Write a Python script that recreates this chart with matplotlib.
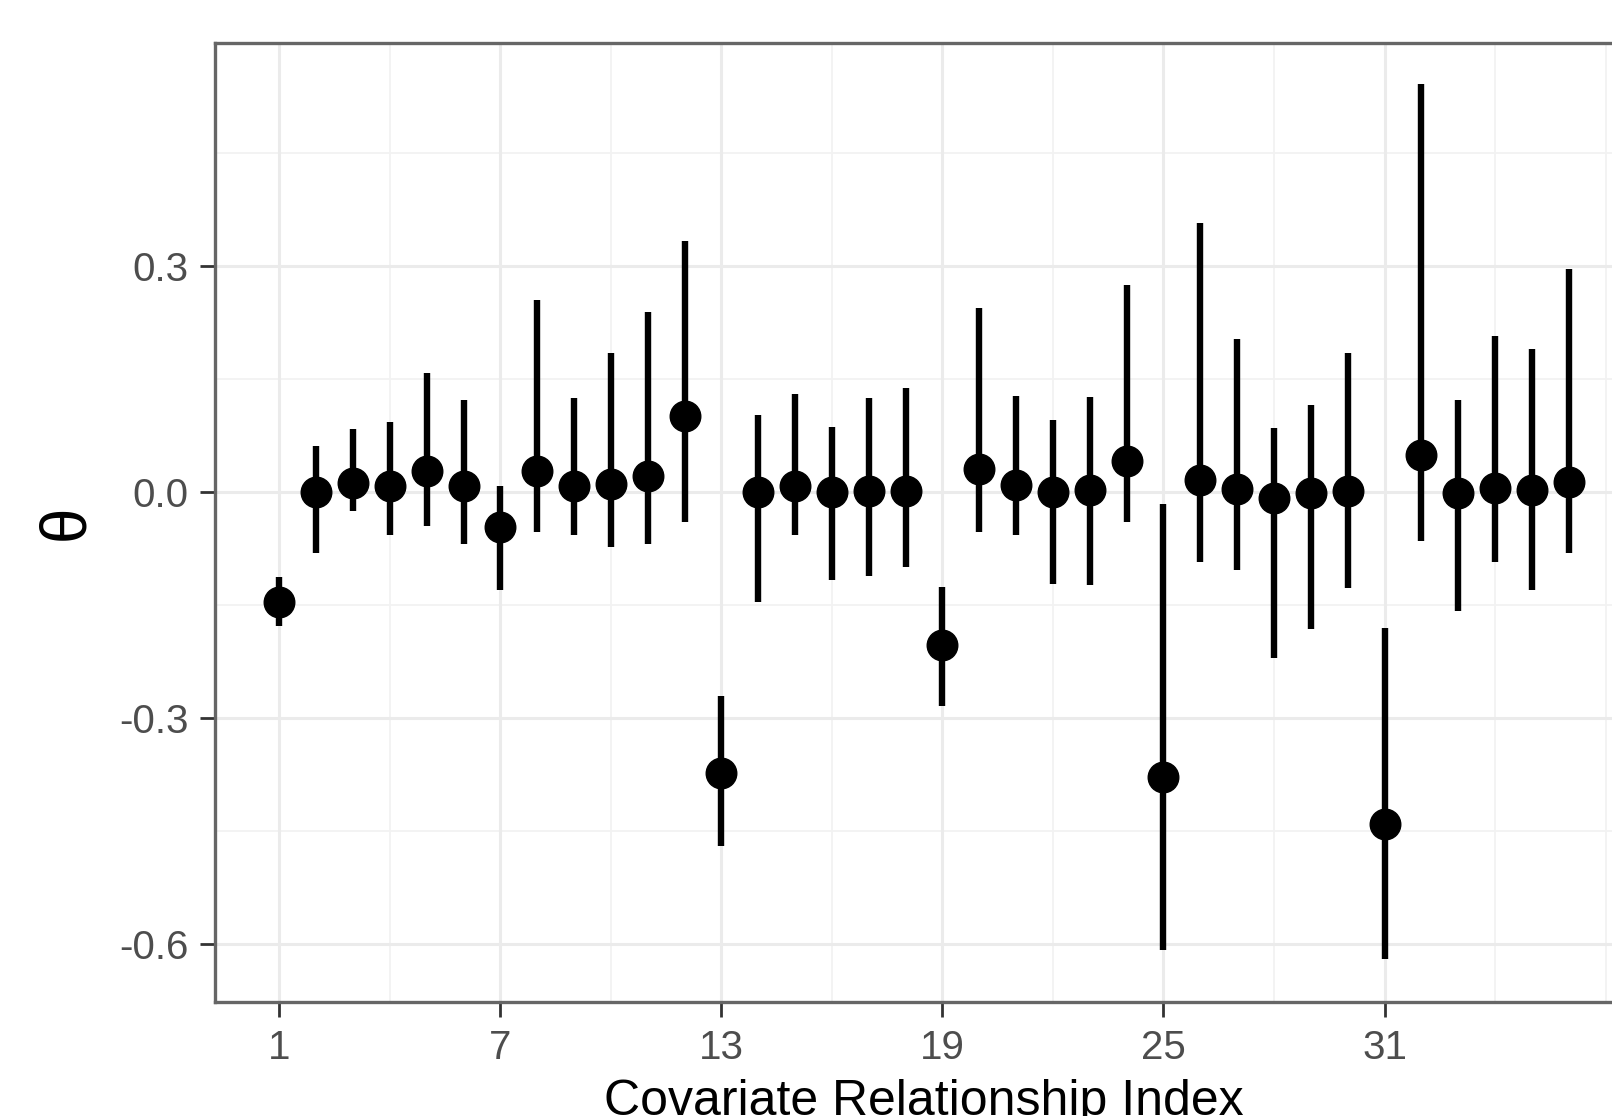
import matplotlib
matplotlib.use("Agg")
import matplotlib.pyplot as plt
import numpy as np

# estimates
index = np.arange(1, 37)
theta = [-0.145, 0.0, 0.013, 0.009, 0.028, 0.009, -0.046, 0.028, 0.008, 0.011, 0.022, 0.101,
         -0.373, 0.0, 0.008, 0.0, 0.002, 0.002, -0.203, 0.031, 0.010, 0.0, 0.003, 0.041,
         -0.378, 0.017, 0.005, -0.007, -0.001, 0.002, -0.440, 0.049, -0.001, 0.006, 0.003, 0.014]
lower = [-0.178, -0.081, -0.025, -0.057, -0.044, -0.069, -0.130, -0.052, -0.056, -0.072, -0.069, -0.039,
         -0.469, -0.146, -0.056, -0.117, -0.111, -0.099, -0.283, -0.052, -0.056, -0.121, -0.123, -0.039,
         -0.607, -0.092, -0.103, -0.220, -0.182, -0.127, -0.620, -0.064, -0.158, -0.092, -0.130, -0.081]
upper = [-0.112, 0.061, 0.084, 0.094, 0.158, 0.122, 0.008, 0.256, 0.125, 0.185, 0.240, 0.334,
         -0.270, 0.103, 0.130, 0.087, 0.125, 0.138, -0.125, 0.245, 0.128, 0.096, 0.127, 0.275,
         -0.015, 0.358, 0.203, 0.085, 0.116, 0.185, -0.180, 0.542, 0.122, 0.208, 0.190, 0.297]

x_ticks = [1, 7, 13, 19, 25, 31]
x_minor = [4, 10, 16, 22, 28, 34, 37]
y_ticks = [-0.6, -0.3, 0.0, 0.3]
y_minor = [-0.45, -0.15, 0.15, 0.45]

plt.rcParams['font.family'] = ['Liberation Sans', 'DejaVu Sans']

W, H = 1612, 1116
fig = plt.figure(figsize=(W / 100, H / 100), dpi=100)
fig.patch.set_facecolor("white")

# panel runs past the right edge of the picture, like the cropped reference
x_lo, x_hi = -0.75, 37.75
unit = 36.84
left = 279.3 - (1 - x_lo) * unit
top, bottom = 42.7, 1002.3
ax = fig.add_axes((left / W, (H - bottom) / H, (x_hi - x_lo) * unit / W, (bottom - top) / H))

ax.set_xlim(x_lo, x_hi)
ax.set_ylim(-0.677, 0.597)

grid_c = "#ebebeb"
for v in x_minor:
    ax.axvline(v, color="#f2f2f2", lw=1.3, zorder=0)
for v in y_minor:
    ax.axhline(v, color="#f2f2f2", lw=1.3, zorder=0)
for v in x_ticks:
    ax.axvline(v, color=grid_c, lw=2.2, zorder=0)
for v in y_ticks:
    ax.axhline(v, color=grid_c, lw=2.2, zorder=0)

ax.vlines(index, lower, upper, color="black", lw=4.6, capstyle="butt", zorder=2)
ax.plot(index, theta, "o", color="black", markersize=22, zorder=3)

ax.set_xticks(x_ticks)
ax.set_xticklabels([str(t) for t in x_ticks])
ax.set_yticks(y_ticks)
ax.set_yticklabels(["%.1f" % t for t in y_ticks])
ax.tick_params(axis="both", length=11, width=2.0, color="#333333",
               labelsize=29, labelcolor="#4d4d4d", pad=8)

for s in ax.spines.values():
    s.set_color("#666666")
    s.set_linewidth(2.4)

ax.set_xlabel("Covariate Relationship Index", fontsize=36, color="black", labelpad=9)
fig.text(66 / W, 1 - 522 / H, "θ", rotation=90, fontsize=46, color="black",
         ha="center", va="center")

fig.savefig("out.png", dpi=100)
